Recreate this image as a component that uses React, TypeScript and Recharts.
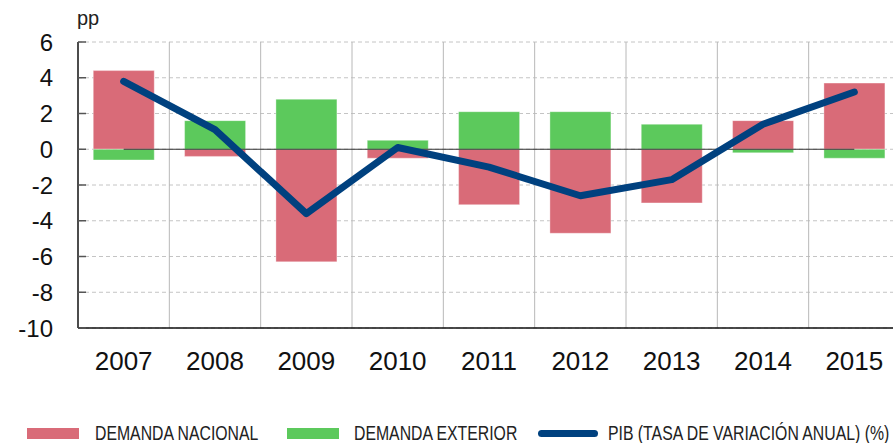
import React from 'react';
import {
  ComposedChart,
  Bar,
  Line,
  XAxis,
  YAxis,
  CartesianGrid,
  ReferenceLine,
  Legend,
} from 'recharts';

const years = ['2007', '2008', '2009', '2010', '2011', '2012', '2013', '2014', '2015'];
const demandaNacional = [4.4, -0.4, -6.3, -0.5, -3.1, -4.7, -3.0, 1.6, 3.7];
const demandaExterior = [-0.6, 1.6, 2.8, 0.5, 2.1, 2.1, 1.4, -0.2, -0.5];
const pib = [3.8, 1.1, -3.6, 0.1, -1.0, -2.6, -1.7, 1.4, 3.2];
const yTicks = [-10, -8, -6, -4, -2, 0, 2, 4, 6];

const RED = '#d96b78';
const GREEN = '#5cc95c';
const BLUE = '#00417f';

const data = years.map((y, i) => ({
  year: y,
  nacional: demandaNacional[i],
  exterior: demandaExterior[i],
  pib: pib[i],
}));

const legendFont = '"Liberation Sans", Arial, sans-serif';

const narrowText = (t: string) => (
  <span
    style={{
      display: 'inline-block',
      flex: 'none',
      transform: 'scaleX(0.79)',
      transformOrigin: 'left center',
      lineHeight: '20px',
    }}
  >
    {t}
  </span>
);

const swatch = (color: string, gap: number) => (
  <span
    style={{ display: 'inline-block', flex: 'none', width: 52, height: 11, background: color, marginRight: gap }}
  />
);

const renderLegend = () => (
  <div
    style={{
      display: 'flex',
      alignItems: 'center',
      height: 20,
      lineHeight: '20px',
      paddingLeft: 19,
      fontFamily: legendFont,
      fontSize: 20,
      color: '#222',
      whiteSpace: 'nowrap',
    }}
  >
    <div style={{ width: 260, flex: 'none', display: 'flex', alignItems: 'center', overflow: 'visible' }}>
      {swatch(RED, 16)}
      {narrowText('DEMANDA NACIONAL')}
    </div>
    <div style={{ width: 251, flex: 'none', display: 'flex', alignItems: 'center', overflow: 'visible' }}>
      {swatch(GREEN, 15)}
      {narrowText('DEMANDA EXTERIOR')}
    </div>
    <div style={{ flex: 'none', display: 'flex', alignItems: 'center' }}>
      <span
        style={{
          display: 'inline-block',
          flex: 'none',
          width: 60,
          height: 7,
          borderRadius: 4,
          background: BLUE,
          marginRight: 10,
        }}
      />
      {narrowText('PIB (TASA DE VARIACIÓN ANUAL) (%)')}
    </div>
  </div>
);

const ppLabel = (props: any) => {
  const vb = props.viewBox || {};
  return (
    <text
      x={(vb.x || 0) + (vb.width || 0) - 1}
      y={(vb.y || 0) - 17}
      fontSize={20}
      fontFamily='"Liberation Sans", Arial, sans-serif'
      fill="#222"
    >
      pp
    </text>
  );
};

export default function App() {
  return (
    <div
      style={{
        position: 'fixed',
        top: 8,
        left: 8,
        width: 885,
        height: 435,
        overflow: 'hidden',
        background: '#fff',
      }}
    >
      <ComposedChart
        width={900}
        height={435}
        data={data}
        stackOffset="sign"
        barCategoryGap="16.7%"
        margin={{ top: 34, right: 8, bottom: 0, left: 0 }}
      >
        <CartesianGrid vertical={false} stroke="#c4c4c4" strokeDasharray="4 3" />
        {years.slice(1).map((y) => (
          <ReferenceLine key={y} x={y} position="start" stroke="#b8b8b8" strokeWidth={1} />
        ))}
        <XAxis
          dataKey="year"
          axisLine={{ stroke: '#111', strokeWidth: 1.5 }}
          tickLine={false}
          tickSize={6}
          tickMargin={18}
          height={95}
          interval={0}
          tick={{ fontSize: 26, fill: '#111', fontFamily: '"Liberation Sans", Arial, sans-serif' }}
        />
        <YAxis
          domain={[-10, 6]}
          ticks={yTicks}
          interval={0}
          width={70}
          allowDataOverflow
          axisLine={{ stroke: '#111', strokeWidth: 1.5 }}
          tickLine={{ stroke: '#555', strokeWidth: 1.5 }}
          tickSize={-8}
          tickMargin={33}
          tick={{ fontSize: 24, fill: '#111', fontFamily: '"Liberation Sans", Arial, sans-serif' }}
          label={ppLabel}
        />
        <Bar
          dataKey="nacional"
          stackId="a"
          fill={RED}
          stroke="rgba(255,255,255,0.35)"
          strokeWidth={1}
          isAnimationActive={false}
        />
        <Bar
          dataKey="exterior"
          stackId="a"
          fill={GREEN}
          stroke="rgba(255,255,255,0.35)"
          strokeWidth={1}
          isAnimationActive={false}
        />
        <ReferenceLine
          segment={[
            { x: years[0], y: 0 },
            { x: years[years.length - 1], y: 0 },
          ]}
          stroke="#333"
          strokeWidth={1.2}
        />
        <Line
          dataKey="pib"
          type="linear"
          stroke={BLUE}
          strokeWidth={7}
          strokeLinecap="round"
          strokeLinejoin="round"
          dot={false}
          activeDot={false}
          isAnimationActive={false}
        />
        <Legend
          verticalAlign="bottom"
          align="left"
          content={renderLegend}
          wrapperStyle={{ left: 0, top: 415, bottom: 'auto', height: 20 }}
        />
      </ComposedChart>
    </div>
  );
}
